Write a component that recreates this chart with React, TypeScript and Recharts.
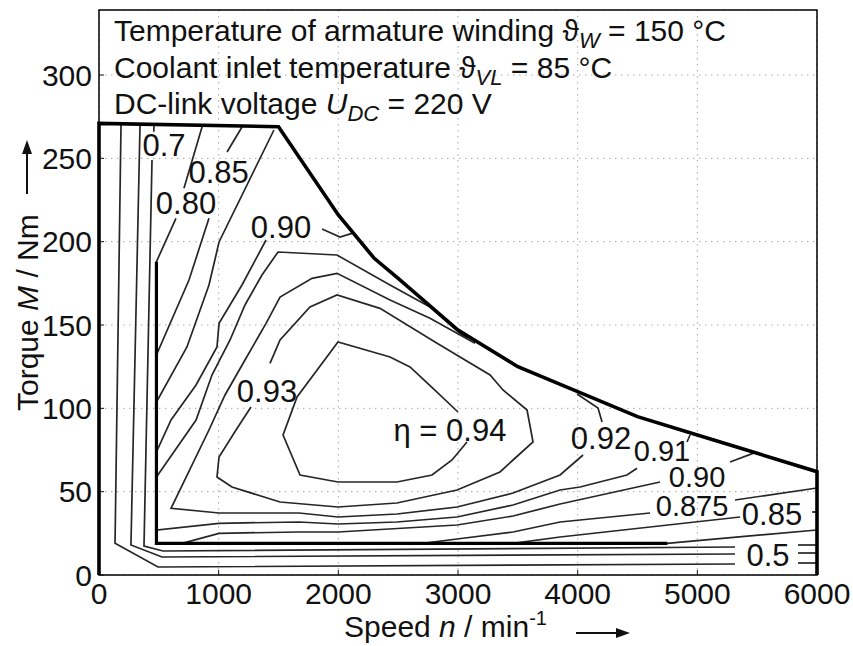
import React from 'react';
import { LineChart, Line, XAxis, YAxis, CartesianGrid, ReferenceDot, ReferenceArea } from 'recharts';

type P = { x: number; y: number };

const xTicks = [0, 1000, 2000, 3000, 4000, 5000, 6000];
const yTicks = [0, 50, 100, 150, 200, 250, 300];

// full-load limit (thick)
const limitMax: P[] = [
  { x: 0, y: 0 }, { x: 0, y: 271 }, { x: 1500, y: 269 }, { x: 2000, y: 216 }, { x: 2300, y: 190 },
  { x: 2500, y: 178 }, { x: 3000, y: 147 }, { x: 3500, y: 125 }, { x: 4000, y: 110 },
  { x: 4500, y: 95 }, { x: 5000, y: 84 }, { x: 5500, y: 73 }, { x: 6000, y: 62 }, { x: 6000, y: 0 },
];
// lower limit of the map (thick)
const limitMin: P[] = [{ x: 480, y: 188 }, { x: 480, y: 19 }, { x: 4750, y: 19 }];

const etaA: P[][] = [
  [{ x: 184, y: 270.5 }, { x: 134, y: 19 }, { x: 493, y: 4.8 }, { x: 5315, y: 6.6 }],
  [{ x: 5841, y: 7.2 }, { x: 6000, y: 7.2 }],
];
const etaB: P[][] = [
  [{ x: 343, y: 270.4 }, { x: 267, y: 18 }, { x: 526, y: 10.8 }, { x: 5315, y: 12.6 }],
  [{ x: 5841, y: 13.2 }, { x: 6000, y: 13.2 }],
];
const eta070: P[][] = [
  [{ x: 460, y: 270.3 }, { x: 458, y: 266 }],
  [{ x: 443, y: 249 }, { x: 376, y: 17.4 }, { x: 535, y: 14.4 }, { x: 5315, y: 16.8 }],
  [{ x: 5841, y: 18 }, { x: 6000, y: 18 }],
];
const eta080: P[][] = [
  [{ x: 861, y: 268.8 }, { x: 710, y: 232 }],
  [{ x: 643, y: 214 }, { x: 480, y: 188 }, { x: 480, y: 19 }, { x: 4747, y: 19 }, { x: 6000, y: 27 }],
];
const eta085: P[][] = [
  [{ x: 1195, y: 268.8 }, { x: 1070, y: 253.8 }],
  [{ x: 919, y: 214 }, { x: 752, y: 177 }, { x: 480, y: 132 }, { x: 480, y: 19 }, { x: 3460, y: 19 },
   { x: 3853, y: 22.8 }, { x: 5357, y: 34.8 }],
  [{ x: 5958, y: 37.8 }, { x: 6000, y: 37.8 }],
];
const eta0875: P[][] = [
  [{ x: 1462, y: 267 }, { x: 1003, y: 199.8 }, { x: 978, y: 192 }, { x: 919, y: 174 }, { x: 735, y: 136.8 },
   { x: 480, y: 103.8 }, { x: 480, y: 19 }, { x: 2708, y: 19 }, { x: 2992, y: 21.6 }, { x: 3460, y: 25.8 },
   { x: 3853, y: 31.8 }, { x: 4605, y: 37.2 }],
  [{ x: 5315, y: 45 }, { x: 6000, y: 52.2 }],
];
const eta090: P[][] = [
  [{ x: 2114, y: 205 }, { x: 2014, y: 202.8 }, { x: 1864, y: 207.6 }],
  [{ x: 1396, y: 201 }, { x: 1195, y: 174 }, { x: 1003, y: 151 }, { x: 986, y: 136.8 }, { x: 811, y: 114 },
   { x: 602, y: 93 }, { x: 480, y: 73.8 }, { x: 480, y: 19 }, { x: 694, y: 19 }, { x: 1003, y: 25 },
   { x: 1671, y: 25.8 }, { x: 1997, y: 25.8 }, { x: 2992, y: 30 }, { x: 3460, y: 35.4 }, { x: 3853, y: 42.6 },
   { x: 4688, y: 55.8 }],
  [{ x: 5273, y: 67.8 }, { x: 5465, y: 73 }],
];
const eta091: P[][] = [
  [{ x: 3084, y: 142.2 }, { x: 3017, y: 145 }, { x: 2766, y: 160.8 }, { x: 2432, y: 174 }, { x: 1989, y: 192 },
   { x: 1496, y: 193.8 }, { x: 1362, y: 180 }, { x: 1220, y: 162 }, { x: 1095, y: 141 }, { x: 944, y: 120 },
   { x: 811, y: 93 }, { x: 480, y: 58.8 }, { x: 480, y: 27 }, { x: 1003, y: 31 }, { x: 1671, y: 31.8 },
   { x: 1997, y: 30.6 }, { x: 2490, y: 31.8 }, { x: 2992, y: 34.8 }, { x: 3460, y: 42 }, { x: 3853, y: 51 },
   { x: 4020, y: 52.8 }, { x: 4412, y: 60 }, { x: 4496, y: 64 }],
  [{ x: 4914, y: 79.8 }, { x: 4939, y: 84 }],
];
const eta092: P[][] = [
  [{ x: 3142, y: 139 }, { x: 2766, y: 154 }, { x: 2432, y: 165 }, { x: 1989, y: 181 }, { x: 1780, y: 178 },
   { x: 1513, y: 166.8 }, { x: 1396, y: 151 }, { x: 1220, y: 129 }, { x: 1053, y: 108 }, { x: 919, y: 87 },
   { x: 602, y: 40 }, { x: 1003, y: 37.2 }, { x: 1671, y: 37.2 }, { x: 1997, y: 34.8 }, { x: 2490, y: 36.6 },
   { x: 2992, y: 40.8 }, { x: 3460, y: 49.2 }, { x: 3853, y: 60 }, { x: 4045, y: 72 }],
  [{ x: 4204, y: 91.8 }, { x: 4170, y: 100.2 }, { x: 3995, y: 108.6 }],
];
const eta093: P[][] = [
  [{ x: 1270, y: 100.8 }, { x: 1145, y: 87 }, { x: 1003, y: 70.8 }, { x: 986, y: 58.8 }, { x: 1111, y: 52.8 },
   { x: 1513, y: 43.8 }, { x: 1997, y: 40.8 }, { x: 2490, y: 43.2 }, { x: 2992, y: 51 }, { x: 3351, y: 61.8 },
   { x: 3460, y: 69 }, { x: 3627, y: 79.8 }, { x: 3577, y: 99 }, { x: 3376, y: 111 }, { x: 3268, y: 120 },
   { x: 2825, y: 139 }, { x: 2348, y: 160 }, { x: 1989, y: 168 }, { x: 1763, y: 160.8 }, { x: 1513, y: 141 },
   { x: 1429, y: 127 }],
];
const eta094: P[][] = [
  [{ x: 3075, y: 79.8 }, { x: 2950, y: 69 }, { x: 2783, y: 60 }, { x: 2490, y: 55.8 }, { x: 1997, y: 55.8 },
   { x: 1680, y: 60 }, { x: 1538, y: 84 }, { x: 1655, y: 106.8 }, { x: 1997, y: 139.8 }, { x: 2432, y: 130.8 },
   { x: 2599, y: 124.8 }, { x: 2791, y: 112 }, { x: 3000, y: 97.8 }],
];

const contours: P[][][] = [etaA, etaB, eta070, eta080, eta085, eta0875, eta090, eta091, eta092, eta093, eta094];

const FONT = '"Liberation Sans", Arial, Helvetica, sans-serif';

const lbl = (text: string, fs: number = 31) => (p: any) => (
  <text x={p.cx} y={p.cy} dy="0.36em" textAnchor="middle" fontSize={fs} fill="#111" fontFamily={FONT}>
    {text}
  </text>
);

export default function App() {
  const segs: P[][] = [];
  contours.forEach((c) => c.forEach((s) => segs.push(s)));
  return (
    <div style={{ position: 'absolute', left: 0, top: 0, width: 853, height: 646, background: '#fff', fontFamily: FONT }}>
      <LineChart width={853} height={646} margin={{ top: 10, right: 36, left: 39, bottom: 41 }}>
        <CartesianGrid stroke="#a8a8a8" strokeDasharray="1.5 4.5" strokeWidth={1} />
        <XAxis
          type="number"
          dataKey="x"
          domain={[0, 6000]}
          ticks={xTicks}
          height={30}
          axisLine={false}
          tickLine={{ stroke: '#111' }}
          tickSize={-5}
          tickMargin={13}
          tick={{ fontSize: 30, fill: '#111', fontFamily: FONT }}
          interval={0}
        />
        <YAxis
          type="number"
          dataKey="y"
          domain={[0, 339]}
          ticks={yTicks}
          width={60}
          axisLine={false}
          tickLine={{ stroke: '#111' }}
          tickSize={-5}
          tickMargin={12}
          tick={{ fontSize: 30, fill: '#111', fontFamily: FONT }}
          interval={0}
        />
        <ReferenceArea x1={0} x2={6000} y1={0} y2={339} fill="none" stroke="#000" strokeWidth={1.5} ifOverflow="visible" />
        {segs.map((s, i) => (
          <Line
            key={'c' + i}
            data={s}
            dataKey="y"
            type="linear"
            dot={false}
            activeDot={false}
            stroke="#262626"
            strokeWidth={1.7}
            isAnimationActive={false}
          />
        ))}
        <Line data={limitMin} dataKey="y" type="linear" dot={false} activeDot={false} stroke="#000" strokeWidth={3.2} isAnimationActive={false} />
        <Line data={limitMax} dataKey="y" type="linear" dot={false} activeDot={false} stroke="#000" strokeWidth={3.6} isAnimationActive={false} />
        <ReferenceDot x={543} y={258} r={1} shape={lbl('0.7')} ifOverflow="visible" />
        <ReferenceDot x={1000} y={241.8} r={1} shape={lbl('0.85')} ifOverflow="visible" />
        <ReferenceDot x={727} y={223} r={1} shape={lbl('0.80')} ifOverflow="visible" />
        <ReferenceDot x={1521} y={208.8} r={1} shape={lbl('0.90')} ifOverflow="visible" />
        <ReferenceDot x={1404} y={110.4} r={1} shape={lbl('0.93')} ifOverflow="visible" />
        <ReferenceDot x={2933} y={87} r={1} shape={lbl('η = 0.94')} ifOverflow="visible" />
        <ReferenceDot x={4195} y={82} r={1} shape={lbl('0.92')} ifOverflow="visible" />
        <ReferenceDot x={4705} y={74.4} r={1} shape={lbl('0.91', 29)} ifOverflow="visible" />
        <ReferenceDot x={4998} y={59} r={1} shape={lbl('0.90', 29)} ifOverflow="visible" />
        <ReferenceDot x={4956} y={41.6} r={1} shape={lbl('0.875', 29)} ifOverflow="visible" />
        <ReferenceDot x={5624} y={36.6} r={1} shape={lbl('0.85')} ifOverflow="visible" />
        <ReferenceDot x={5591} y={12} r={1} shape={lbl('0.5')} ifOverflow="visible" />
      </LineChart>
      <svg width={853} height={646} style={{ position: 'absolute', left: 0, top: 0, pointerEvents: 'none' }} fontFamily={FONT} fill="#111">
        <text x={114} y={41} fontSize={30}>
          Temperature of armature winding ϑ<tspan fontStyle="italic" fontSize={22} dy={7}>W</tspan>
          <tspan dy={-7}> = 150 °C</tspan>
        </text>
        <text x={114} y={78} fontSize={30}>
          Coolant inlet temperature ϑ<tspan fontStyle="italic" fontSize={22} dy={7}>VL</tspan>
          <tspan dy={-7}> = 85 °C</tspan>
        </text>
        <text x={114} y={114} fontSize={30}>
          DC-link voltage <tspan fontStyle="italic">U</tspan>
          <tspan fontStyle="italic" fontSize={22} dy={7}>DC</tspan>
          <tspan dy={-7}> = 220 V</tspan>
        </text>
        <text x={344} y={637} fontSize={30}>
          Speed <tspan fontStyle="italic">n</tspan> / min<tspan fontSize={20} dy={-12}>-1</tspan>
        </text>
        <line x1={576} y1={633} x2={620} y2={633} stroke="#111" strokeWidth={2} />
        <polygon points="630,633 616,628 616,638" fill="#111" />
        <text transform="translate(38,411) rotate(-90)" fontSize={30}>
          Torque <tspan fontStyle="italic">M</tspan> / Nm
        </text>
        <line x1={27} y1={194} x2={27} y2={150} stroke="#111" strokeWidth={2} />
        <polygon points="27,140 22,154 32,154" fill="#111" />
      </svg>
    </div>
  );
}
